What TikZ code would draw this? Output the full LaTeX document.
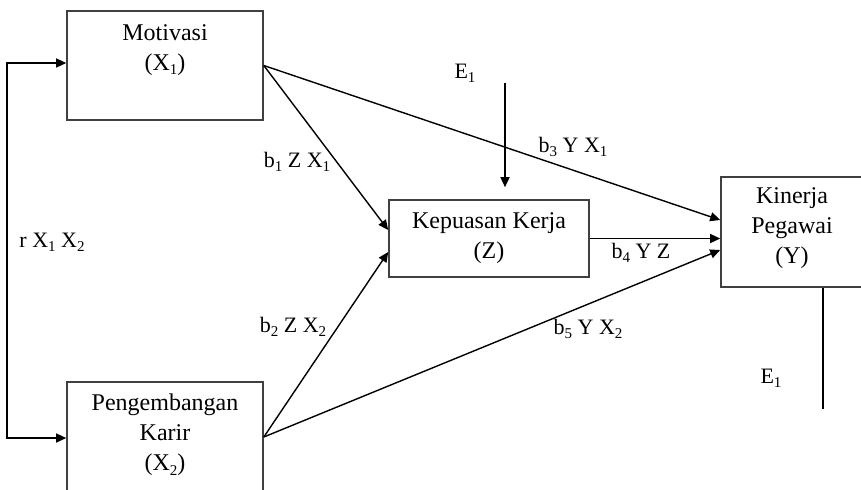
\documentclass[tikz,border=0pt]{standalone}
\usepackage{fontspec}
\setmainfont{Liberation Serif}
\usetikzlibrary{arrows.meta}
\newcommand\sbs[1]{\raisebox{-2.2pt}{\fontsize{7.5}{8}\selectfont #1}}
\begin{document}
\begin{tikzpicture}[x=0.5pt,y=-0.5pt,
  box/.style={draw=black!75,line width=0.8pt,inner sep=0pt},
  txt/.style={font=\fontsize{12}{15}\selectfont,align=center,inner sep=0pt},
  lbl/.style={font=\fontsize{11}{13}\selectfont,inner sep=0pt},
  arr/.style={line width=0.7pt,-{Triangle[length=5pt,width=4.5pt]}},
  darr/.style={line width=0.7pt,{Triangle[length=5pt,width=4.5pt]}-{Triangle[length=5pt,width=4.5pt]}},
  ln/.style={line width=0.7pt}]
\useasboundingbox (0,0) rectangle (861,489);
\clip (0,0) rectangle (861,489);
% boxes
\node[box,minimum width=98pt,minimum height=54.5pt] (mot) at (165,65.5) {};
\node[box,minimum width=98pt,minimum height=55pt] (pen) at (165,437) {};
\node[box,minimum width=100pt,minimum height=38.5pt] (kep) at (489,238.5) {};
\node[box,minimum width=74.5pt,minimum height=55pt] (kin) at (795.5,232) {};
% box texts
\node[txt] (tmot) at (165,50) {Motivasi\\(X\sbs{1})};
\node[txt] (tpen) at (165,435) {Pengembangan\\Karir\\(X\sbs{2})};
\node[txt] (tkep) at (489,238) {Kepuasan Kerja\\(Z)};
\node[txt] (tkin) at (792,228) {Kinerja\\Pegawai\\(Y)};
% correlation bracket
\coordinate (lt) at (7,63);
\coordinate (lb) at (7,438);
\draw[darr] (mot.west |- lt) -- (lt) -- (lb) -- (pen.west |- lb);
% paths
\draw[arr] (mot.east) -- ([yshift=4.25pt]kep.west);
\draw[arr] (pen.east) -- ([yshift=-6.75pt]kep.west);
\draw[arr] (mot.east) -- ([yshift=6pt]kin.west);
\draw[arr] (kep.east) -- (kin.west |- kep.east);
\draw[arr] (pen.east) -- ([yshift=-9pt]kin.west);
% error terms
\coordinate (ea) at (505,83);
\draw[arr] (ea) -- ([yshift=6pt]kep.north -| ea);
\node[lbl] (e1t) at (465,73) {E\sbs{1}};
\coordinate (eb) at (823,409);
\draw[ln] (kin.south -| eb) -- (eb);
\node[lbl] (e1b) at (771,378) {E\sbs{1}};
% labels
\node[lbl] (lb1) at (297,162) {b\sbs{1} Z X\sbs{1}};
\node[lbl] (lb3) at (573,147) {b\sbs{3} Y X\sbs{1}};
\node[lbl] (lb4) at (641,253) {b\sbs{4} Y Z};
\node[lbl] (lb2) at (293,327) {b\sbs{2} Z X\sbs{2}};
\node[lbl] (lb5) at (588,329) {b\sbs{5} Y X\sbs{2}};
\node[lbl] (lr) at (52,242) {r X\sbs{1} X\sbs{2}};
\end{tikzpicture}
\end{document}
